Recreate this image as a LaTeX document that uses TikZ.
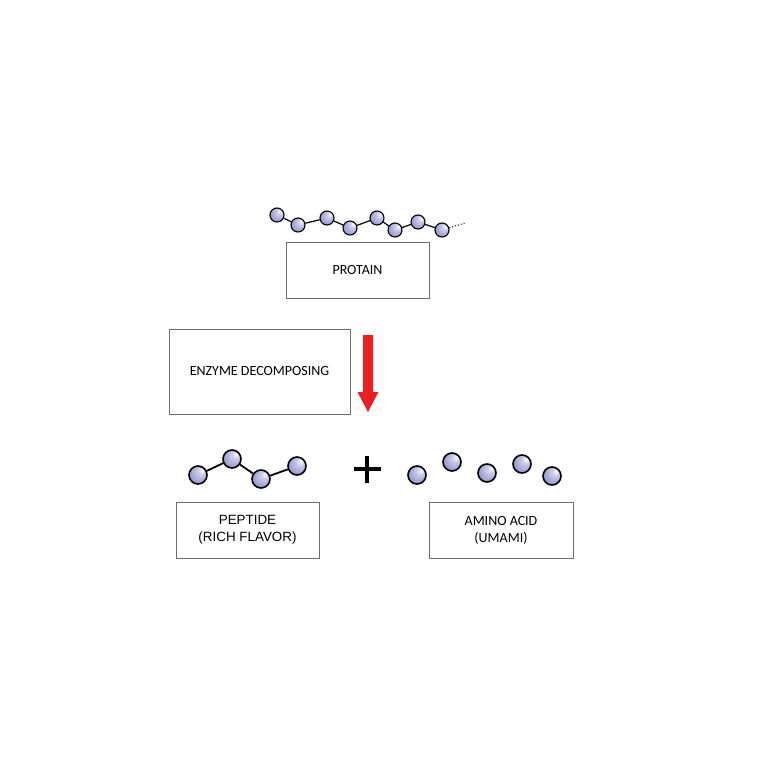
\documentclass[tikz,border=0pt]{standalone}
\usepackage{fontspec}
\setmainfont{Carlito}
\newfontfamily\arialfont{Liberation Sans}
\definecolor{beadlight}{RGB}{205,205,235}
\definecolor{beaddark}{RGB}{135,135,195}
\definecolor{boxgray}{RGB}{110,110,110}
\definecolor{arrowred}{RGB}{235,30,36}
\pgfdeclareradialshading{beadball}{\pgfpoint{12bp}{14bp}}{color(0bp)=(white); color(10bp)=(beadlight); color(38bp)=(beaddark); color(60bp)=(beaddark)}
\begin{document}
\begin{tikzpicture}[x=1pt,y=-1pt,
  bead/.style={circle,draw=black,line width=1.1pt,inner sep=0pt,minimum size=14pt,shading=beadball},
  bigbead/.style={bead,line width=1.6pt,minimum size=18pt},
  label box/.style={draw=boxgray,line width=0.6pt,fill=white,align=center,font=\fontsize{14}{17}\selectfont,inner sep=0pt},
  link/.style={line width=1.2pt},
  biglink/.style={line width=1.8pt}]
\useasboundingbox (0,0) rectangle (760,760);
\fill[white] (0,0) rectangle (760,760);
% protein chain
\node[bead] (p1) at (277,215) {};
\node[bead] (p2) at (298,225) {};
\node[bead] (p3) at (327,218) {};
\node[bead] (p4) at (350,228) {};
\node[bead] (p5) at (377,218) {};
\node[bead] (p6) at (395,230) {};
\node[bead] (p7) at (418,222) {};
\node[bead] (p8) at (442,230) {};
\coordinate (pend) at (465,223);
\foreach \a/\b in {p1/p2,p2/p3,p3/p4,p4/p5,p5/p6,p6/p7,p7/p8} \draw[link] (\a) -- (\b);
\draw[line width=1pt,dotted] (p8) -- (pend);
% boxes
\node[label box,minimum width=143pt,minimum height=56pt] (protein) at (357.5,270.5) {PROTAIN};
\node[label box,minimum width=181pt,minimum height=85pt] (enzyme) at (259.5,371.5) {ENZYME DECOMPOSING};
\node[label box,minimum width=143pt,minimum height=56pt,font=\arialfont\fontsize{13.4}{17}\selectfont] (peptide) at (247.5,530) {PEPTIDE\\(RICH FLAVOR)};
\node[label box,minimum width=144pt,minimum height=56pt] (amino) at (501,530) {AMINO ACID\\(UMAMI)};
% red arrow
\fill[arrowred] (363,335) -- (373,335) -- (373,392) -- (378.5,392) -- (368,412) -- (357.5,392) -- (363,392) -- cycle;
% peptide
\node[bigbead] (q1) at (198,475) {};
\node[bigbead] (q2) at (232,459) {};
\node[bigbead] (q3) at (261,479) {};
\node[bigbead] (q4) at (297,466) {};
\foreach \a/\b in {q1/q2,q2/q3,q3/q4} \draw[biglink] (\a) -- (\b);
% plus
\draw[line width=3.8pt] (353.5,469) -- (380.5,469);
\draw[line width=3.8pt] (367,455.5) -- (367,482.5);
% amino acids
\node[bigbead] (a1) at (417,475) {};
\node[bigbead] (a2) at (452,462) {};
\node[bigbead] (a3) at (487,473) {};
\node[bigbead] (a4) at (522,464) {};
\node[bigbead] (a5) at (552,476) {};
\end{tikzpicture}
\end{document}
